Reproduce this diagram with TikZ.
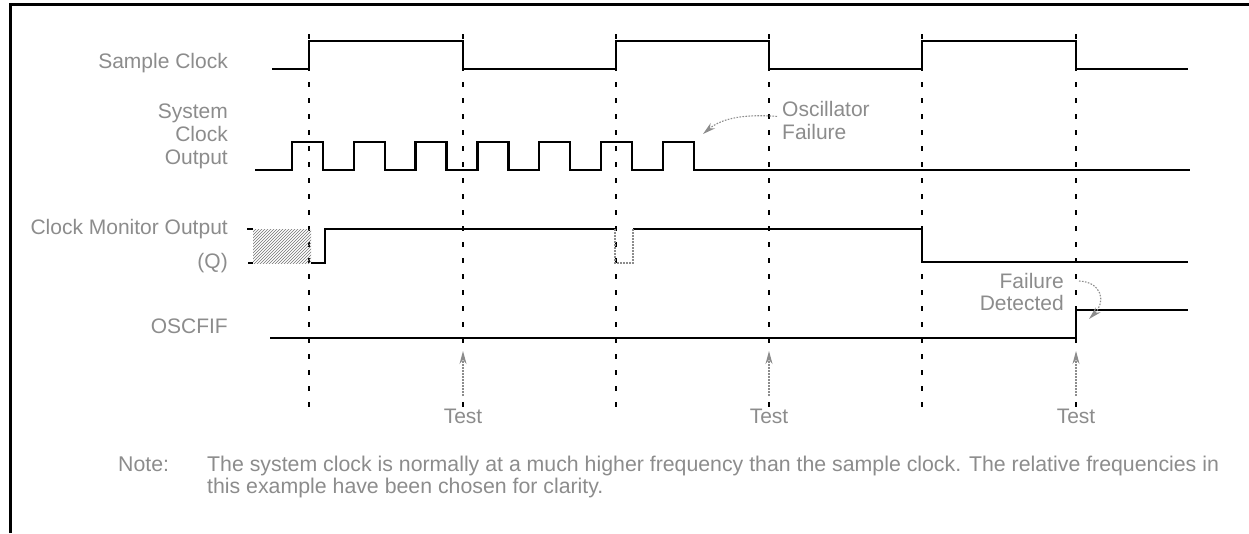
\documentclass[tikz,border=0pt]{standalone}
\usepackage{fontspec}
\setmainfont{Liberation Sans}
\usetikzlibrary{patterns,arrows.meta}
\begin{document}
\begin{tikzpicture}[x=1pt,y=-1pt,
  sig/.style={line width=2.4pt, line join=miter},
  guide/.style={line width=2pt, dash pattern=on 5pt off 11pt},
  lbl/.style={text=black!45, font=\fontsize{21}{23}\selectfont, inner sep=0pt},
  notetext/.style={text=black!45, font=\fontsize{21.3}{23}\selectfont, inner sep=0pt},
  ann/.style={black!45, line width=1.1pt, dash pattern=on 1.6pt off 1.4pt},
  anntip/.style={-{Stealth[length=13pt,width=7pt]}},
]
\useasboundingbox (0,0) rectangle (1249,533);
% frame
\draw[line width=2.6pt] (10.5,533) -- (10.5,4.5) -- (1249,4.5);

% guide lines
\foreach \gx in {309,463,616,769,922,1076}
  \draw[guide] (\gx,34) -- (\gx,407);

% labels
\node[lbl, anchor=base east] (sclk) at (228,68) {Sample Clock};
\node[lbl, anchor=base east] (sys1) at (228,118) {System};
\node[lbl, anchor=base east] (sys2) at (228,141) {Clock};
\node[lbl, anchor=base east] (sys3) at (228,164) {Output};
\node[lbl, anchor=base east] (cmo1) at (228,234) {Clock Monitor Output};
\node[lbl, anchor=base east] (cmo2) at (228,268) {(Q)};
\node[lbl, anchor=base east] (osc) at (228,333) {OSCFIF};

% Sample clock
\draw[sig] (272,69) -- (309,69) -- (309,41) -- (463,41) -- (463,69) -- (616,69)
  -- (616,41) -- (769,41) -- (769,69) -- (922,69) -- (922,41) -- (1076,41)
  -- (1076,69) -- (1188,69);

% System clock output
\draw[sig] (255,170) -- (292,170) -- (292,142) -- (323,142) -- (323,170)
  -- (353.8,170) -- (353.8,142) -- (384.8,142) -- (384.8,170)
  -- (415.6,170) -- (415.6,142) -- (446.6,142) -- (446.6,170)
  -- (477.4,170) -- (477.4,142) -- (508.4,142) -- (508.4,170)
  -- (539.2,170) -- (539.2,142) -- (570.2,142) -- (570.2,170)
  -- (601,170) -- (601,142) -- (632,142) -- (632,170)
  -- (662.8,170) -- (662.8,142) -- (693.8,142) -- (693.8,170)
  -- (1190,170);

% Clock monitor output
\fill[pattern=north east lines, pattern color=black!55] (253,229) rectangle (311,263);
\draw[sig] (247,229) -- (253,229);
\draw[sig] (248,263) -- (253,263);
\draw[sig] (311,263) -- (325,263) -- (325,229) -- (615,229);
\draw[sig] (633,229) -- (922,229) -- (922,262) -- (1188,262);
\draw[ann] (615,229) -- (615,263) -- (633,263) -- (633,229);

% OSCFIF
\draw[sig] (270,338) -- (1076,338) -- (1076,310) -- (1188,310);

% Oscillator failure annotation
\node[lbl, anchor=base west] (oscf1) at (782,116) {Oscillator};
\node[lbl, anchor=base west] (oscf2) at (782,139) {Failure};
\coordinate (oscTip) at (703,134);
\draw[ann, anntip] (oscf1.south west) ++(-5,0) .. controls (745,114) and (722,118) .. (oscTip);

% Failure detected annotation
\node[lbl, anchor=base east] (fd1) at (1064,288) {Failure};
\node[lbl, anchor=base east] (fd2) at (1064,310) {Detected};
\coordinate (fdStart) at (1079,281);
\coordinate (fdTip) at (1089,319);
\draw[ann, anntip] (fdStart) .. controls (1102,282) and (1106,302) .. (fdTip);

% Test arrows
\foreach \tx/\nm in {463/t1,769/t2,1076/t3}{
  \draw[white, line width=5pt] (\tx,347) -- (\tx,397);
  \node[lbl, anchor=base] (\nm) at (\tx,423) {Test};
  \coordinate (\nm tail) at (\tx,396);
  \coordinate (\nm tip) at (\tx,351);
  \draw[ann, anntip] (\nm tail) -- (\nm tip);
}

% Note
\node[notetext, anchor=base west] (notelbl) at (118,471) {Note:};
\node[notetext, anchor=base west] (note1) at (207,471) {The system clock is normally at a much higher frequency than the sample clock. The relative frequencies in};
\node[notetext, anchor=base west] (note2) at (207,493) {this example have been chosen for clarity.};
\end{tikzpicture}
\end{document}
